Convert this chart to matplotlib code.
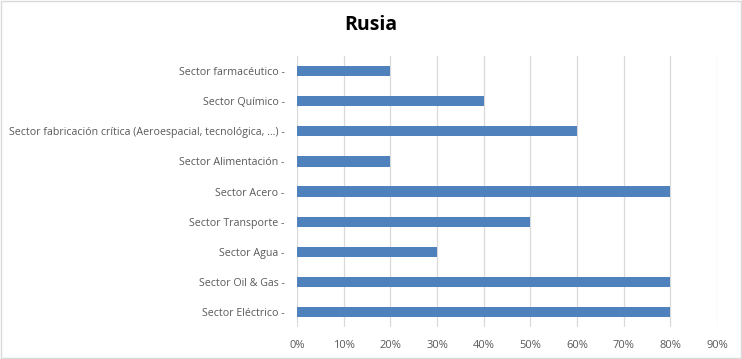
import matplotlib
matplotlib.use('Agg')
import matplotlib.pyplot as plt
from matplotlib.ticker import PercentFormatter
from matplotlib.patches import Rectangle

# Datos (de abajo hacia arriba)
sectores = ['Sector Eléctrico -', 'Sector Oil & Gas -', 'Sector Agua -',
            'Sector Transporte -', 'Sector Acero -', 'Sector Alimentación -',
            'Sector fabricación crítica (Aeroespacial, tecnológica, ...) -',
            'Sector Químico -', 'Sector farmacéutico -']
valores = [80, 80, 30, 50, 80, 20, 60, 40, 20]
ticks_x = [0, 10, 20, 30, 40, 50, 60, 70, 80, 90]

plt.rcParams['font.family'] = ['Open Sans', 'DejaVu Sans']

fig = plt.figure(figsize=(7.42, 3.59), dpi=100)
ax = fig.add_axes([0.4003, 0.0891, 0.5660, 0.7549])

ax.barh(range(len(sectores)), valores, height=0.34, color='#4F81BD', zorder=3)

ax.set_xlim(0, 90)
ax.set_ylim(-0.5, len(sectores) - 0.5)
ax.set_xticks(ticks_x)
ax.xaxis.set_major_formatter(PercentFormatter(decimals=0))
ax.set_yticks(range(len(sectores)))
ax.set_yticklabels(sectores)
ax.tick_params(axis='both', length=0, colors='#595959')
ax.tick_params(axis='x', pad=9, labelsize=8)
ax.tick_params(axis='y', pad=9, labelsize=7.7)
ax.grid(axis='x', color='#D9D9D9', linewidth=0.9, zorder=0)
for s in ax.spines.values():
    s.set_visible(False)

fig.text(0.5, 0.93, 'Rusia', ha='center', va='center', fontsize=14,
         fontweight='bold', color='black')

# Borde del gráfico
fig.patches.append(Rectangle((0.001, 0.002), 0.997, 0.995, transform=fig.transFigure,
                             fill=False, edgecolor='#D9D9D9', linewidth=1))

plt.savefig('out.png', dpi=100)
plt.close()
